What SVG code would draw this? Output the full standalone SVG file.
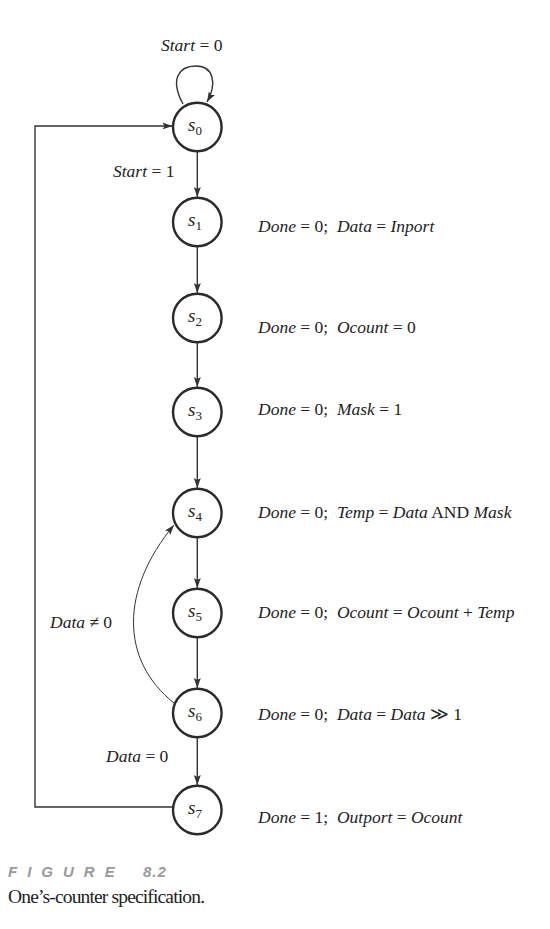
<svg xmlns="http://www.w3.org/2000/svg" width="550" height="929" viewBox="0 0 550 929">
<style>
.node circle{fill:#fff;stroke:#2a2a2a;stroke-width:2.4}
.lbl{font-family:"Liberation Serif",serif;font-style:italic;font-size:19px;fill:#222}
.sub{font-size:13px;font-style:normal}
.t{font-family:"Liberation Serif",serif;font-size:17.5px;fill:#222;white-space:pre}
.i{font-style:italic}
.edge{fill:none;stroke:#333;stroke-width:1.4}
.thin{fill:none;stroke:#333;stroke-width:1}
</style>
<defs>
<marker id="arr" viewBox="0 0 10 8" refX="10" refY="4" markerWidth="10" markerHeight="8" markerUnits="userSpaceOnUse" orient="auto">
<path d="M0,0.5 L10,4 L0,7.5 L2,4 Z" fill="#333"/>
</marker>
</defs>
<rect width="550" height="929" fill="#fff"/>
<g id="connectors">
<path class="edge" d="M183,104 C170,80 178,66 196,66 C214,66 217,84 207,102" marker-end="url(#arr)"/>
<line class="edge" x1="197.3" y1="151" x2="197.3" y2="197" marker-end="url(#arr)"/>
<line class="edge" x1="197.3" y1="246" x2="197.3" y2="293" marker-end="url(#arr)"/>
<line class="edge" x1="197.3" y1="342" x2="197.3" y2="387" marker-end="url(#arr)"/>
<line class="edge" x1="197.3" y1="436" x2="197.3" y2="488" marker-end="url(#arr)"/>
<line class="edge" x1="197.3" y1="537" x2="197.3" y2="588" marker-end="url(#arr)"/>
<line class="edge" x1="197.3" y1="637" x2="197.3" y2="688" marker-end="url(#arr)"/>
<line class="edge" x1="197.3" y1="737" x2="197.3" y2="785" marker-end="url(#arr)"/>
<path class="thin" d="M174,703 C120,660 120,590 174,525" marker-end="url(#arr)"/>
<polyline class="edge" points="174,807 35,807 35,126 172.5,126" marker-end="url(#arr)"/>
</g>
<g id="s0" class="node"><circle cx="197.3" cy="127" r="24.3"/><text class="lbl" x="188" y="131">s<tspan class="sub" dy="4">0</tspan></text></g>
<g id="s1" class="node"><circle cx="197.3" cy="222" r="24.3"/><text class="lbl" x="188" y="226">s<tspan class="sub" dy="4">1</tspan></text></g>
<g id="s2" class="node"><circle cx="197.3" cy="318" r="24.3"/><text class="lbl" x="188" y="322">s<tspan class="sub" dy="4">2</tspan></text></g>
<g id="s3" class="node"><circle cx="197.3" cy="412" r="24.3"/><text class="lbl" x="188" y="416">s<tspan class="sub" dy="4">3</tspan></text></g>
<g id="s4" class="node"><circle cx="197.3" cy="513" r="24.3"/><text class="lbl" x="188" y="517">s<tspan class="sub" dy="4">4</tspan></text></g>
<g id="s5" class="node"><circle cx="197.3" cy="613" r="24.3"/><text class="lbl" x="188" y="617">s<tspan class="sub" dy="4">5</tspan></text></g>
<g id="s6" class="node"><circle cx="197.3" cy="713" r="24.3"/><text class="lbl" x="188" y="717">s<tspan class="sub" dy="4">6</tspan></text></g>
<g id="s7" class="node"><circle cx="197.3" cy="810" r="24.3"/><text class="lbl" x="188" y="814">s<tspan class="sub" dy="4">7</tspan></text></g>
<g id="labels" xml:space="preserve">
<text class="t" x="191.7" y="51" text-anchor="middle"><tspan class="i">Start</tspan> = 0</text>
<text class="t" x="113" y="177"><tspan class="i">Start</tspan> = 1</text>
<text class="t" x="50" y="628"><tspan class="i">Data</tspan> ≠ 0</text>
<text class="t" x="106" y="762"><tspan class="i">Data</tspan> = 0</text>
<text class="t" x="258" y="232"><tspan class="i">Done</tspan> = 0;  <tspan class="i">Data</tspan> = <tspan class="i">Inport</tspan></text>
<text class="t" x="258" y="333"><tspan class="i">Done</tspan> = 0;  <tspan class="i">Ocount</tspan> = 0</text>
<text class="t" x="258" y="415"><tspan class="i">Done</tspan> = 0;  <tspan class="i">Mask</tspan> = 1</text>
<text class="t" x="258" y="518"><tspan class="i">Done</tspan> = 0;  <tspan class="i">Temp</tspan> = <tspan class="i">Data</tspan> AND <tspan class="i">Mask</tspan></text>
<text class="t" x="258" y="618"><tspan class="i">Done</tspan> = 0;  <tspan class="i">Ocount</tspan> = <tspan class="i">Ocount</tspan> + <tspan class="i">Temp</tspan></text>
<text class="t" x="258" y="720"><tspan class="i">Done</tspan> = 0;  <tspan class="i">Data</tspan> = <tspan class="i">Data</tspan> ≫ 1</text>
<text class="t" x="258" y="823"><tspan class="i">Done</tspan> = 1;  <tspan class="i">Outport</tspan> = <tspan class="i">Ocount</tspan></text>
</g>
<g id="caption">
<text x="8" y="877" font-family="'Liberation Sans',sans-serif" font-size="15" font-weight="bold" font-style="italic" fill="#9a9a9a" letter-spacing="10">FIGURE</text>
<text x="143" y="877" font-family="'Liberation Sans',sans-serif" font-size="15" font-weight="bold" font-style="italic" fill="#9a9a9a" letter-spacing="1">8.2</text>
<text x="8" y="903" font-family="'Liberation Serif',serif" font-size="19.5" fill="#222" textLength="197">One’s-counter specification.</text>
</g>
</svg>
